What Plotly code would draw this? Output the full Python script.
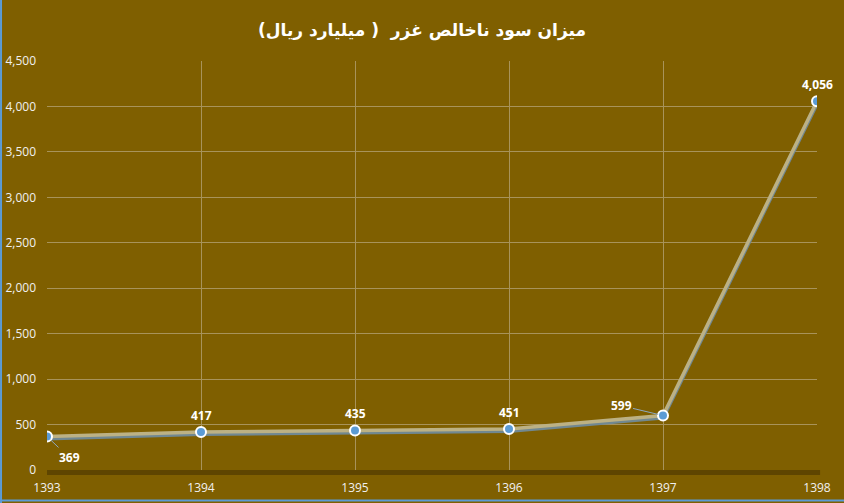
import plotly.graph_objects as go

years = ["1393", "1394", "1395", "1396", "1397", "1398"]
profit = [369, 417, 435, 451, 599, 4056]
labels = ["369", "417", "435", "451", "599", "4,056"]
title = "میزان سود ناخالص غزر  ( میلیارد ریال)"

bg = "#7f5f00"
grid = "#a8935a"

fig = go.Figure()
# shadow line (drawn on a slightly shifted overlay axis)
fig.add_trace(go.Scatter(x=years, y=profit, mode="lines", yaxis="y2",
                         line=dict(color="#718891", width=4), hoverinfo="skip", showlegend=False))
fig.add_trace(go.Scatter(x=years, y=profit, mode="lines", yaxis="y3",
                         line=dict(color="#bcb184", width=3.5), hoverinfo="skip", showlegend=False))
fig.add_trace(go.Scatter(x=years, y=profit, mode="markers", yaxis="y3",
                         marker=dict(color="#5b9bd5", size=10, line=dict(color="white", width=2)),
                         showlegend=False))

# label placements (pixel offsets: ax, ay)
offsets = {0: (22, 21), 4: (-42, -10)}
for i, (y, t) in enumerate(zip(profit, labels)):
    if i in offsets:
        ax, ay = offsets[i]
        fig.add_annotation(x=i, y=y, xref="x", yref="y", text="<b>" + t + "</b>", showarrow=True,
                           arrowhead=0, arrowwidth=1, arrowcolor="#8fa9c0", ax=ax, ay=ay, standoff=5,
                           font=dict(color="white", size=12, family="Open Sans"))
    else:
        fig.add_annotation(x=i, y=y, xref="x", yref="y", text="<b>" + t + "</b>", showarrow=False,
                           yshift=17, font=dict(color="white", size=12, family="Open Sans"))

# floor band
fig.add_shape(type="rect", xref="paper", yref="paper", x0=0, x1=1.004, y0=0, y1=-5,
              ysizemode="pixel", yanchor=0, fillcolor="#5e4500", line=dict(width=0), layer="below")
# selection frame (left and bottom edges)
fig.add_shape(type="line", xref="paper", yref="paper", x0=-0.0597, x1=-0.0597, y0=-0.1, y1=1.2,
              line=dict(color="#5b9bd5", width=2))
fig.add_shape(type="line", xref="paper", yref="paper", x0=-0.07, x1=1.05, y0=-0.0745, y1=-0.0745,
              line=dict(color="#5b9bd5", width=2))

fig.update_layout(
    width=844, height=503,
    margin=dict(l=47, r=27, t=61, b=33, autoexpand=False),
    paper_bgcolor=bg, plot_bgcolor=bg,
    title=dict(text="<b>" + title + "</b>", x=0.5, xanchor="center", y=0.94, yanchor="middle",
               font=dict(color="white", size=17, family="DejaVu Sans")),
    xaxis=dict(type="category", range=[0, 5], showgrid=True, gridcolor=grid, gridwidth=1,
               showline=False, zeroline=False, ticks="", ticklabelstandoff=9, automargin=False,
               tickfont=dict(color="#f0f0f0", size=12, family="Open Sans")),
    yaxis=dict(range=[0, 4500], dtick=500, tickformat=",", showgrid=True, gridcolor=grid,
               gridwidth=1, zeroline=False, showline=False, ticks="", ticklabelstandoff=10,
               automargin=False, tickfont=dict(color="#f0f0f0", size=12, family="Open Sans")),
    yaxis2=dict(range=[22, 4522], overlaying="y", visible=False, showgrid=False),
    yaxis3=dict(range=[0, 4500], overlaying="y", visible=False, showgrid=False),
)

fig.write_html("out.html", config={"displayModeBar": False})
with open("out.html", encoding="utf-8") as f:
    html = f.read()
html = html.replace("<head>", "<head><style>html,body{margin:0;padding:0;overflow:hidden}</style>", 1)
with open("out.html", "w", encoding="utf-8") as f:
    f.write(html)
